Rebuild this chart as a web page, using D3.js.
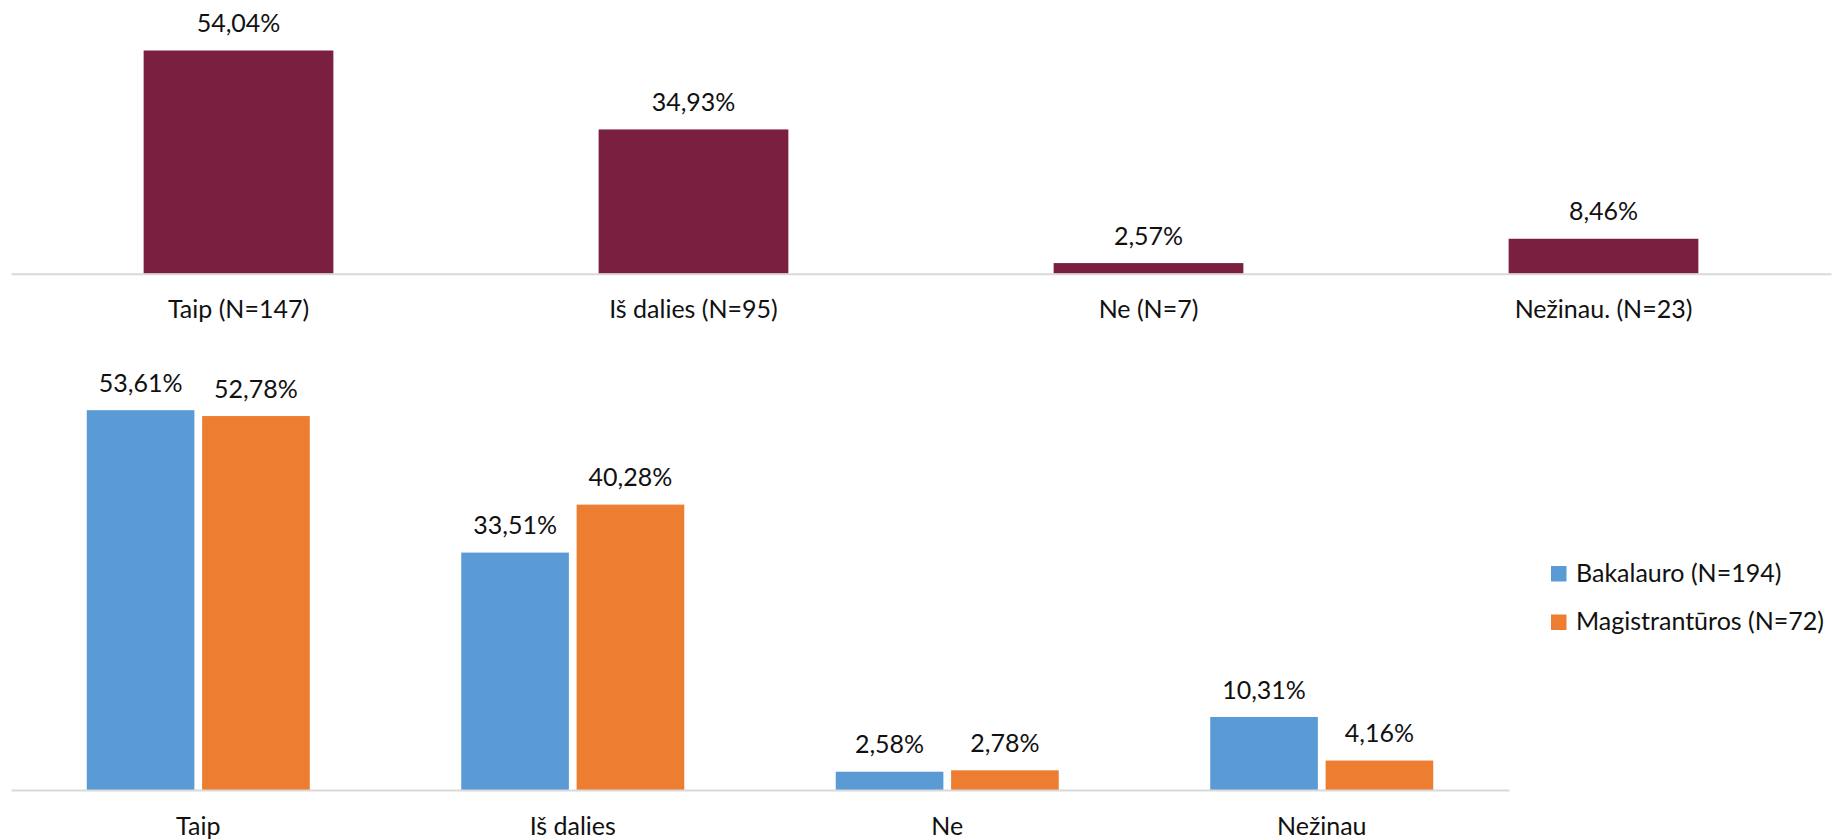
<!DOCTYPE html>
<html>
<head>
<meta charset="utf-8">
<script src="https://cdn.jsdelivr.net/npm/d3@7"></script>
<style>
  html, body { margin: 0; padding: 0; background: #fff; }
  svg { display: block; }
  text { font-family: Lato, "Open Sans", sans-serif; fill: #111; }
</style>
</head>
<body>
<svg id="chart" width="1833" height="840"></svg>
<script>
// ---- Data ----
const topCategories = ["Taip (N=147)", "Iš dalies (N=95)", "Ne (N=7)", "Nežinau. (N=23)"];
const topValues = [54.04, 34.93, 2.57, 8.46];

const bottomCategories = ["Taip", "Iš dalies", "Ne", "Nežinau"];
const seriesNames = ["Bakalauro (N=194)", "Magistrantūros (N=72)"];
const bakalauroValues = [53.61, 33.51, 2.58, 10.31];
const magistranturosValues = [52.78, 40.28, 2.78, 4.16];

const fmt = v => v.toFixed(2).replace(".", ",") + "%";

// ---- Setup ----
const svg = d3.select("#chart");
const FS = 25;
const axisColor = "#D9D9D9";

// ===== Top chart =====
const xTop = d3.scaleBand().domain(topCategories).range([11, 1831])
  .paddingInner(0.583).paddingOuter(0.2915);
const yTop = d3.scaleLinear().domain([0, 60]).range([273.7, 25.9]);

const gTop = svg.append("g");
gTop.selectAll("rect.bar").data(topValues).join("rect")
  .attr("class", "bar")
  .attr("x", (d, i) => xTop(topCategories[i]))
  .attr("width", xTop.bandwidth())
  .attr("y", d => yTop(d))
  .attr("height", d => yTop(0) - yTop(d))
  .attr("fill", "#7B1F41");

gTop.selectAll("text.val").data(topValues).join("text")
  .attr("class", "val")
  .attr("x", (d, i) => xTop(topCategories[i]) + xTop.bandwidth() / 2)
  .attr("y", d => yTop(d) - 18.4)
  .attr("text-anchor", "middle")
  .attr("font-size", FS)
  .text(d => fmt(d));

const axTop = gTop.append("g").attr("transform", `translate(0,${yTop(0)})`)
  .call(d3.axisBottom(xTop).tickSize(0).tickSizeOuter(0));
axTop.select(".domain").attr("stroke", axisColor).attr("stroke-width", 2);
axTop.selectAll(".tick text").attr("y", 44.6).attr("dy", 0)
  .attr("font-size", FS).attr("font-family", "Lato, 'Open Sans', sans-serif").attr("fill", "#111");

// ===== Bottom chart =====
const x0 = d3.scaleBand().domain(bottomCategories).range([11, 1509])
  .paddingInner(0.4045).paddingOuter(0.2023);
const x1 = d3.scaleBand().domain(seriesNames).range([0, x0.bandwidth()]).paddingInner(0.067);
const yBot = d3.scaleLinear().domain([0, 60]).range([790, 790 - 60 * 7.085]);
const color = d3.scaleOrdinal().domain(seriesNames).range(["#5B9BD5", "#ED7D31"]);

const seriesValues = [bakalauroValues, magistranturosValues];
const gBot = svg.append("g");
const groups = gBot.selectAll("g.grp").data(bottomCategories).join("g")
  .attr("class", "grp")
  .attr("transform", d => `translate(${x0(d)},0)`);

groups.each(function(cat, ci) {
  const g = d3.select(this);
  const rows = seriesNames.map((s, si) => ({ s, v: seriesValues[si][ci] }));
  g.selectAll("rect").data(rows).join("rect")
    .attr("x", d => x1(d.s))
    .attr("width", x1.bandwidth())
    .attr("y", d => yBot(d.v))
    .attr("height", d => yBot(0) - yBot(d.v))
    .attr("fill", d => color(d.s));
  g.selectAll("text").data(rows).join("text")
    .attr("x", d => x1(d.s) + x1.bandwidth() / 2)
    .attr("y", d => yBot(d.v) - 18.4)
    .attr("text-anchor", "middle")
    .attr("font-size", FS)
    .text(d => fmt(d.v));
});

const axBot = gBot.append("g").attr("transform", `translate(0,${yBot(0)})`)
  .call(d3.axisBottom(x0).tickSize(0).tickSizeOuter(0));
axBot.select(".domain").attr("stroke", axisColor).attr("stroke-width", 2);
axBot.selectAll(".tick text").attr("y", 44.6).attr("dy", 0)
  .attr("font-size", FS).attr("font-family", "Lato, 'Open Sans', sans-serif").attr("fill", "#111");

// ===== Legend =====
const legend = svg.append("g");
const li = legend.selectAll("g").data(seriesNames).join("g")
  .attr("transform", (d, i) => `translate(1551,${566 + i * 48.5})`);
li.append("rect").attr("width", 15.5).attr("height", 15.5).attr("fill", d => color(d));
li.append("text").attr("x", 25).attr("y", 15.8).attr("font-size", FS).text(d => d);
</script>
</body>
</html>
